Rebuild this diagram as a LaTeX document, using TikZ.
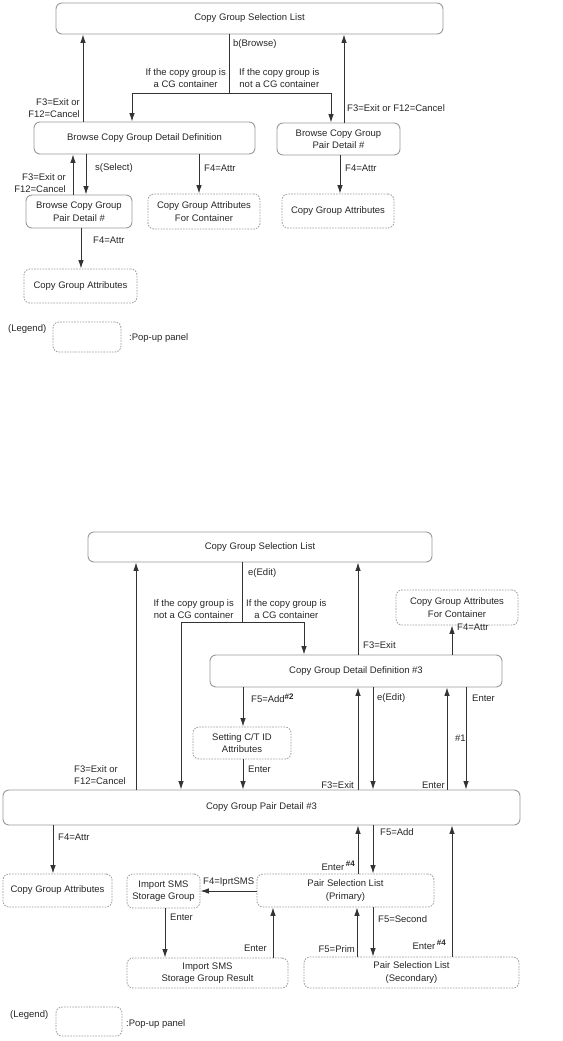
\documentclass[tikz,border=0pt]{standalone}
\usepackage{fontspec}
\setmainfont{Liberation Sans}
\usetikzlibrary{arrows.meta}
\newcommand{\supmark}[1]{\raisebox{3.5pt}{\fontsize{8}{8}\selectfont\bfseries #1}}
\tikzset{
  sbox/.style={draw=black!40, line width=0.9pt, rounded corners=6pt, align=center, inner sep=0pt, text=black!85},
  pbox/.style={draw=black!40, line width=0.8pt, dash pattern=on 1.6pt off 1.2pt, rounded corners=6pt, align=center, inner sep=0pt, text=black!85},
  arr/.style={draw=black!80, line width=0.9pt, -{Latex[length=8.5pt,width=5.5pt]}},
  ln/.style={draw=black!80, line width=0.9pt},
  lbl/.style={inner sep=0pt, text=black!85, align=center},
}
\begin{document}
\begin{tikzpicture}[x=1pt,y=-1pt,font=\fontsize{9.5}{12.5}\selectfont]
\useasboundingbox (0,0) rectangle (562,1041);
% ---------------- top diagram ----------------
\node[sbox, minimum width=387pt, minimum height=31pt] (tsel) at (249.5,18.5) {Copy Group Selection List};
\node[sbox, minimum width=221pt, minimum height=32pt] (tbdd) at (144.5,138) {Browse Copy Group Detail Definition};
\node[sbox, minimum width=123pt, minimum height=32pt] (tbpd) at (338.5,139) {Browse Copy Group\\Pair Detail \#};
\node[pbox, minimum width=112pt, minimum height=34pt] (tcgar) at (338,211) {Copy Group Attributes};
\node[pbox, minimum width=112pt, minimum height=35pt] (tcgac) at (204,211.5) {Copy Group Attributes\\For Container};
\node[sbox, minimum width=106pt, minimum height=33pt] (tbpd2) at (79,211.5) {Browse Copy Group\\Pair Detail \#};
\node[pbox, minimum width=113pt, minimum height=34pt] (tcgal) at (80.5,286) {Copy Group Attributes};
\node[pbox, minimum width=68pt, minimum height=30pt] (tleg) at (87,337) {};

\coordinate (tj) at (229,93);
\coordinate (tja) at (132,93);
\coordinate (tjb) at (331,93);
\draw[ln] (tsel.south -| tj) -- (tj);
\draw[arr] (tj) -- (tja) -- (tja |- tbdd.north);
\draw[arr] (tj) -- (tjb) -- (tjb |- tbpd.north);
\draw[arr] (tbdd.north -| 83,0) -- (tsel.south -| 83,0);
\draw[arr] (tbpd.north -| 344,0) -- (tsel.south -| 344,0);
\draw[arr] (tbpd.south -| 340,0) -- (tcgar.north -| 340,0);
\draw[arr] (tbdd.south -| 86,0) -- (tbpd2.north -| 86,0);
\draw[arr] (tbpd2.north -| 73,0) -- (tbdd.south -| 73,0);
\draw[arr] (tbdd.south -| 199,0) -- (tcgac.north -| 199,0);
\draw[arr] (tbpd2.south -| 81,0) -- (tcgal.north -| 81,0);

\node[lbl, anchor=west] (tl1) at (233,44) {b(Browse)};
\node[lbl, anchor=east] (tl2) at (226,78) {If the copy group is\\a CG container};
\node[lbl, anchor=west] (tl3) at (239,78) {If the copy group is\\not a CG container};
\node[lbl, anchor=east, align=right] (tl4) at (80,108) {F3=Exit or\\F12=Cancel};
\node[lbl, anchor=west] (tl5) at (347,108) {F3=Exit or F12=Cancel};
\node[lbl, anchor=west] (tl6) at (95,168) {s(Select)};
\node[lbl, anchor=west] (tl7) at (204,168) {F4=Attr};
\node[lbl, anchor=west] (tl8) at (345,168) {F4=Attr};
\node[lbl, anchor=east, align=right] (tl9) at (66,183) {F3=Exit or\\F12=Cancel};
\node[lbl, anchor=west] (tl10) at (93,240) {F4=Attr};
\node[lbl, anchor=west] (tl11) at (8,329) {(Legend)};
\node[lbl, anchor=west] (tl12) at (129,338) {:Pop-up panel};

% ---------------- bottom diagram ----------------
\node[sbox, minimum width=344pt, minimum height=30pt] (bsel) at (260,547) {Copy Group Selection List};
\node[pbox, minimum width=122pt, minimum height=35pt] (bcgac) at (457,607.5) {Copy Group Attributes\\For Container};
\node[sbox, minimum width=292pt, minimum height=32pt] (bcgdd) at (356,671) {Copy Group Detail Definition \#3};
\node[pbox, minimum width=98pt, minimum height=32pt] (bset) at (242,743) {Setting C/T ID\\Attributes};
\node[sbox, minimum width=517pt, minimum height=35pt] (bcgpd) at (261.5,807.5) {Copy Group Pair Detail \#3};
\node[pbox, minimum width=109pt, minimum height=33pt] (bcga) at (57.5,890.5) {Copy Group Attributes};
\node[pbox, minimum width=73pt, minimum height=34pt] (bimp) at (163.5,891) {Import SMS\\Storage Group};
\node[pbox, minimum width=177pt, minimum height=33pt] (bpsp) at (345.5,890.5) {Pair Selection List\\(Primary)};
\node[pbox, minimum width=161pt, minimum height=30pt] (bimpr) at (207.5,973) {Import SMS\\Storage Group Result};
\node[pbox, minimum width=215pt, minimum height=31pt] (bpss) at (411.5,972.5) {Pair Selection List\\(Secondary)};
\node[pbox, minimum width=66pt, minimum height=29pt] (bleg) at (89,1021.5) {};

\coordinate (bj) at (242,622);
\coordinate (bja) at (181,622);
\coordinate (bjb) at (304,622);
\draw[ln] (bsel.south -| bj) -- (bj);
\draw[arr] (bj) -- (bja) -- (bja |- bcgpd.north);
\draw[arr] (bj) -- (bjb) -- (bjb |- bcgdd.north);
\draw[arr] (bcgpd.north -| 136,0) -- (bsel.south -| 136,0);
\draw[arr] (bcgdd.north -| 358,0) -- (bsel.south -| 358,0);
\draw[arr] (bcgdd.north -| 452,0) -- (bcgac.south -| 452,0);
\draw[arr] (bcgdd.south -| 243,0) -- (bset.north -| 243,0);
\draw[arr] (bset.south -| 243,0) -- (bcgpd.north -| 243,0);
\draw[arr] (bcgpd.north -| 358,0) -- (bcgdd.south -| 358,0);
\draw[arr] (bcgdd.south -| 373,0) -- (bcgpd.north -| 373,0);
\draw[arr] (bcgpd.north -| 447,0) -- (bcgdd.south -| 447,0);
\draw[arr] (bcgdd.south -| 466,0) -- (bcgpd.north -| 466,0);
\draw[arr] (bcgpd.south -| 53,0) -- (bcga.north -| 53,0);
\draw[arr] (bpsp.north -| 358,0) -- (bcgpd.south -| 358,0);
\draw[arr] (bcgpd.south -| 373,0) -- (bpsp.north -| 373,0);
\draw[arr] (bpss.north -| 452,0) -- (bcgpd.south -| 452,0);
\draw[arr] (bpsp.west |- 0,891) -- (bimp.east |- 0,891);
\draw[arr] (bimp.south -| 165,0) -- (bimpr.north -| 165,0);
\draw[arr] (bimpr.north -| 273,0) -- (bpsp.south -| 273,0);
\draw[arr] (bpss.north -| 357,0) -- (bpsp.south -| 357,0);
\draw[arr] (bpsp.south -| 373,0) -- (bpss.north -| 373,0);

\node[lbl, anchor=west] (bl1) at (248,573) {e(Edit)};
\node[lbl, anchor=east] (bl2) at (234,609) {If the copy group is\\not a CG container};
\node[lbl, anchor=west] (bl3) at (246,609) {If the copy group is\\a CG container};
\node[lbl, anchor=west, align=left] (bl4) at (74,775) {F3=Exit or\\F12=Cancel};
\node[lbl, anchor=west] (bl5) at (363,645) {F3=Exit};
\node[lbl, anchor=west] (bl6) at (457,627) {F4=Attr};
\node[lbl, anchor=west] (bl7) at (251,698) {F5=Add\supmark{\#2}};
\node[lbl, anchor=west] (bl8) at (377,698) {e(Edit)};
\node[lbl, anchor=west] (bl9) at (472,698) {Enter};
\node[lbl, anchor=west] (bl10) at (455,738) {\#1};
\node[lbl, anchor=west] (bl11) at (248,769) {Enter};
\node[lbl, anchor=east] (bl12) at (354,785) {F3=Exit};
\node[lbl, anchor=east] (bl13) at (445,785) {Enter};
\node[lbl, anchor=west] (bl14) at (58,837) {F4=Attr};
\node[lbl, anchor=west] (bl15) at (380,832) {F5=Add};
\node[lbl, anchor=east] (bl16) at (355,866) {Enter\,\supmark{\#4}};
\node[lbl, anchor=west] (bl17) at (203,882) {F4=IprtSMS};
\node[lbl, anchor=west] (bl18) at (170,917) {Enter};
\node[lbl, anchor=east] (bl19) at (267,948) {Enter};
\node[lbl, anchor=east] (bl20) at (355,949) {F5=Prim};
\node[lbl, anchor=west] (bl21) at (378,919) {F5=Second};
\node[lbl, anchor=east] (bl22) at (446,945) {Enter\,\supmark{\#4}};
\node[lbl, anchor=west] (bl23) at (10,1015) {(Legend)};
\node[lbl, anchor=west] (bl24) at (126,1024) {:Pop-up panel};
\end{tikzpicture}
\end{document}
